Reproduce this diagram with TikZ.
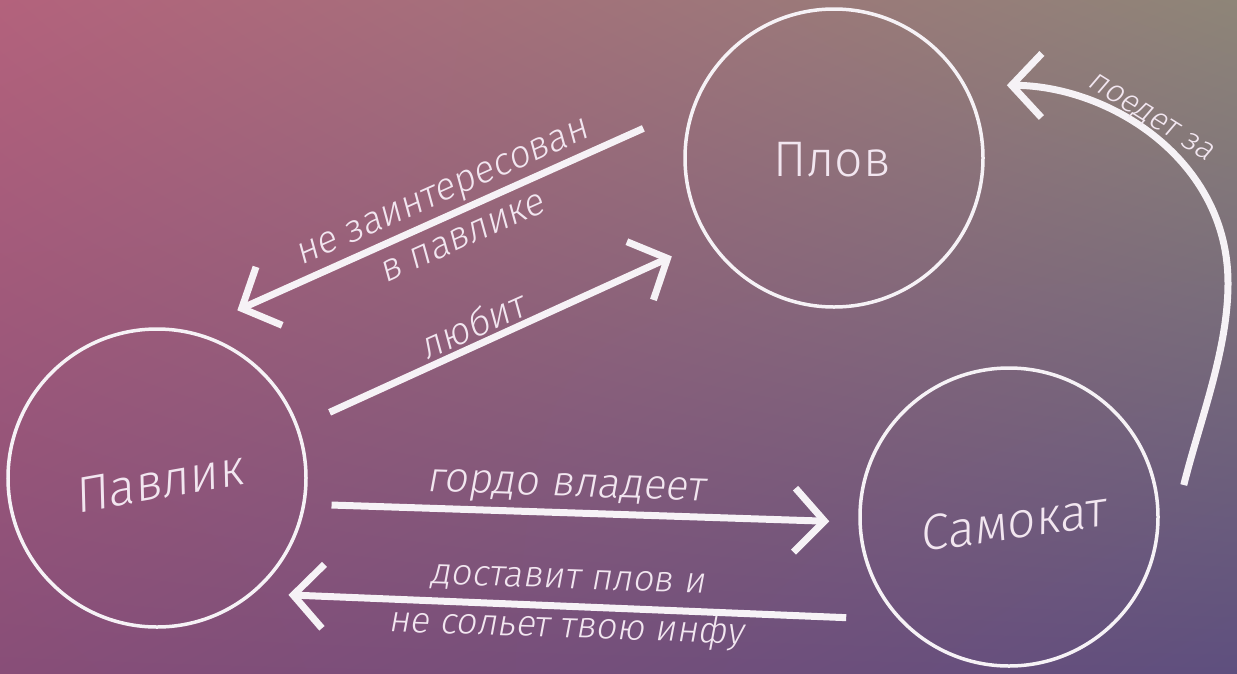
\documentclass[tikz,border=0pt]{standalone}
\usepackage{fontspec}
\setmainfont{Fira Sans Light}
\newfontfamily\slfont{Fira Sans Light}[FakeSlant=0.15]
\usetikzlibrary{arrows.meta,shadings}
\definecolor{bgTL}{HTML}{B3627C}
\definecolor{bgTR}{HTML}{8E8578}
\definecolor{bgBL}{HTML}{884E78}
\definecolor{bgBR}{HTML}{5E4F7E}
\definecolor{linecol}{HTML}{F6F2F6}
\definecolor{txtcol}{HTML}{F2E6F0}
\begin{document}
\begin{tikzpicture}[x=1pt,y=-1pt,
  circ/.style={circle, draw=linecol, line width=3.5pt, minimum size=298pt, inner sep=0pt},
  conn/.style={draw=linecol, line width=7pt, -{Straight Barb[length=30pt,width=64pt]}},
  ctext/.style={text=txtcol, font=\slfont\fontsize{50}{60}\selectfont, inner sep=0pt},
  etext/.style={text=txtcol, font=\slfont\fontsize{38}{50}\selectfont, align=center, inner sep=0pt}]
  % background
  \shade[upper left=bgTL, upper right=bgTR, lower left=bgBL, lower right=bgBR]
    (0,0) rectangle (1237,673);
  \useasboundingbox (0,0) rectangle (1237,673);

  % circles
  \node[circ] (plov) at (834,158) {};
  \node[circ] (pavlik) at (157,478) {};
  \node[circ] (samokat) at (1009,517) {};

  % circle texts
  \node[ctext, font=\fontsize{50}{60}\selectfont] (plovt) at (832,160) {Плов};
  \node[ctext, rotate=10] (pavlikt) at (158,482) {Павлик};
  \node[ctext, rotate=8] (samokatt) at (1012,522) {Самокат};

  % connectors
  \draw[conn, shorten <=53.7pt, shorten >=50.9pt] (plov.160) -- (pavlik.77);
  \draw[conn, shorten <=34pt, shorten >=39.3pt] (pavlik.20) -- (plov.213);
  \draw[conn, shorten <=26.1pt, shorten >=29.1pt] (pavlik.350) -- (samokat.182);
  \draw[conn, shorten <=52.6pt, shorten >=34.6pt] (samokat.223) -- (pavlik.310);
  \draw[conn, shorten >=41pt] (samokat.east) ++(24,-32)
    .. controls (1200,420) and (1228,350) .. (1228,283)
    .. controls (1228,160) and (1110,86) .. (plov.29);

  % connector labels
  \node[etext, rotate=24] (l1) at (452,215) {не заинтересован\\в павлике};
  \node[etext, rotate=24] (l2) at (472,325) {любит};
  \node[etext, rotate=-2, font=\slfont\fontsize{42}{50}\selectfont] (l3) at (566,489) {гордо владеет};
  \node[etext, rotate=-2, font=\slfont\fontsize{36.5}{49}\selectfont] (l4) at (567,607) {доставит плов и\\не сольет твою инфу};
  \node[etext, rotate=-32, font=\slfont\fontsize{32}{40}\selectfont] (l5) at (1150,118) {поедет за};
\end{tikzpicture}
\end{document}
